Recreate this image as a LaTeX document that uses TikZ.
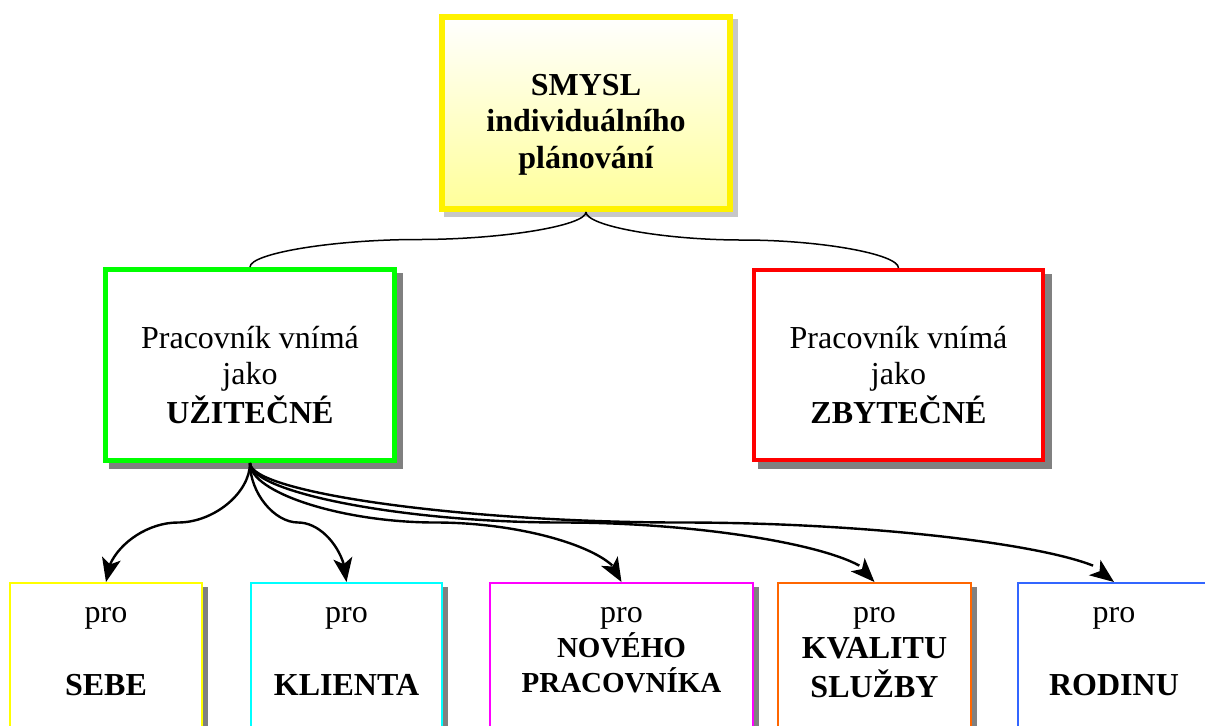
\documentclass[tikz,border=0pt]{standalone}
\usepackage{fontspec}
\setmainfont{Liberation Serif}
\usetikzlibrary{calc,shadows,arrows.meta,bending}

\definecolor{rootyellow}{HTML}{FFF200}
\definecolor{paleyellow}{HTML}{FFFF99}
\definecolor{linegreen}{HTML}{00FF00}
\definecolor{linered}{HTML}{FF0000}
\definecolor{lineyellow}{HTML}{FFFF00}
\definecolor{linecyan}{HTML}{00FFFF}
\definecolor{linemagenta}{HTML}{FF00FF}
\definecolor{lineorange}{HTML}{FF6600}
\definecolor{lineblue}{HTML}{3366FF}

% centred block of lines whose baseline is the first line
\newcommand\textstack[1]{\begin{tabular}[t]{@{}c@{}}#1\end{tabular}}
\newcommand\smallbold{\fontsize{14.5}{17.5}\selectfont\bfseries}

\tikzset{
  rootbox/.style={rectangle, inner sep=0pt, draw=rootyellow, line width=3pt,
    top color=white, bottom color=paleyellow,
    minimum width=144pt, minimum height=96pt,
    drop shadow={shadow xshift=2.5pt, shadow yshift=-2.5pt, fill=black!22,
      draw=black!22, line width=3pt, opacity=1}},
  midbox/.style={rectangle, inner sep=0pt, fill=white,
    minimum width=144.5pt, minimum height=95.5pt,
    drop shadow={shadow xshift=3pt, shadow yshift=-3pt, fill=black!50,
      draw=black!50, line width=2.5pt, opacity=1}},
  leafbox/.style={rectangle, inner sep=0pt, fill=white, line width=1pt,
    minimum height=100pt,
    drop shadow={shadow xshift=2.5pt, shadow yshift=-2.5pt, fill=black!50,
      draw=black!50, line width=1pt, opacity=1}},
  txt/.style={anchor=base, inner sep=0pt, font=\fontsize{16}{18.4}\selectfont},
  % vertical S-shaped connector: leaves and enters vertically,
  % horizontal at the half-way point
  curvelink/.style={to path={
    let \p1=(\tikztostart), \p2=(\tikztotarget),
        \p3=($(\p1)!0.5!(\p2)$) in
      .. controls (\x1,{\y1+(\y2-\y1)/4}) and ({\x1+(\x2-\x1)/4},\y3) .. (\p3)
      .. controls ({\x1+3*(\x2-\x1)/4},\y3) and (\x2,{\y1+3*(\y2-\y1)/4}) .. (\p2)}},
  brace/.style={curvelink, line width=0.75pt},
  fork/.style={curvelink, line width=1.2pt,
    -{Stealth[length=12pt,width=9.5pt,inset=3pt,flex]}},
}

\begin{document}
\begin{tikzpicture}[x=0.5pt, y=-0.5pt]
  \useasboundingbox (0,0) rectangle (1205,725);
  \clip (0,0) rectangle (1205,725);

  % boxes
  \node[rootbox] (root) at (586,113) {};
  \node[midbox, draw=linegreen, line width=2.5pt] (useful) at (250,365) {};
  \node[midbox, draw=linered, line width=2pt, minimum height=95pt] (useless) at (898.5,365) {};

  \node[leafbox, draw=lineyellow, minimum width=96pt] (self) at (106,683) {};
  \node[leafbox, draw=linecyan, minimum width=95.5pt] (client) at (346.5,683) {};
  \node[leafbox, draw=linemagenta, minimum width=131.5pt] (newbie) at (621.5,683) {};
  \node[leafbox, draw=lineorange, minimum width=96.5pt] (quality) at (874.5,683) {};
  \node[leafbox, draw=lineblue, minimum width=96pt] (family) at (1114,683) {};

  % texts
  \node[txt] (t-root) at (586,95)
    {\textstack{\bfseries SMYSL\\\bfseries individuálního\\\bfseries plánování}};
  \node[txt] (t-useful) at (250,348)
    {\textstack{Pracovník vnímá\\jako\\\bfseries UŽITEČNÉ}};
  \node[txt] (t-useless) at (898.5,348)
    {\textstack{Pracovník vnímá\\jako\\\bfseries ZBYTEČNÉ}};
  \node[txt] (t-self) at (106,622) {\textstack{pro\\ \\\bfseries SEBE}};
  \node[txt] (t-client) at (346.5,622) {\textstack{pro\\ \\\bfseries KLIENTA}};
  \node[txt] (t-newbie) at (621.5,622)
    {\textstack{pro\\[-0.9pt]\smallbold NOVÉHO\\[-0.9pt]\smallbold PRACOVNÍKA}};
  \node[txt] (t-quality) at (874.5,622)
    {\textstack{pro\\\bfseries KVALITU\\\bfseries SLUŽBY}};
  \node[txt] (t-family) at (1114,622) {\textstack{pro\\ \\\bfseries RODINU}};

  % connectors
  \draw[brace] (root.south) to (useful.north);
  \draw[brace] (root.south) to (useless.north);

  \draw[fork] (useful.south) to (self.north);
  \draw[fork] (useful.south) to (client.north);
  \draw[fork] (useful.south) to (newbie.north);
  \draw[fork] (useful.south) to (quality.north);
  \draw[fork] (useful.south) to (family.north);
\end{tikzpicture}
\end{document}
